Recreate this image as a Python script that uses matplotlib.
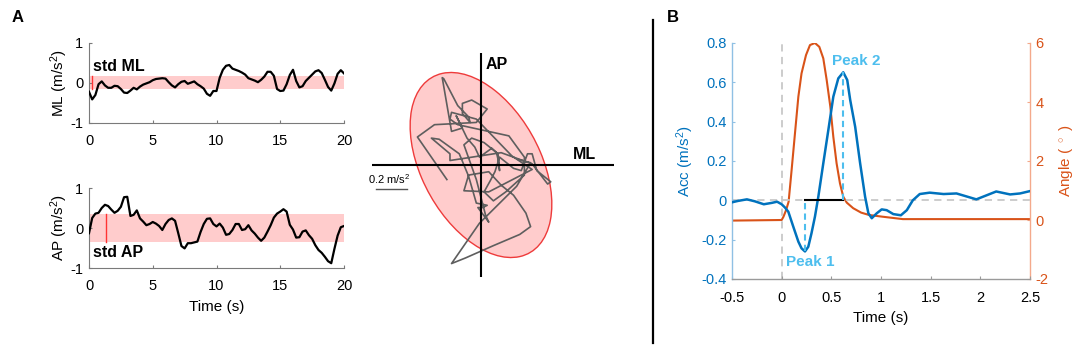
import numpy as np
import matplotlib
matplotlib.use("Agg")
import matplotlib.pyplot as plt
from matplotlib.patches import Ellipse
from matplotlib.lines import Line2D

plt.rcParams['font.family'] = ['Liberation Sans', 'DejaVu Sans']
plt.rcParams['mathtext.fontset'] = 'custom'
plt.rcParams['mathtext.rm'] = 'Liberation Sans'
plt.rcParams['mathtext.it'] = 'Liberation Sans:italic'
plt.rcParams['mathtext.bf'] = 'Liberation Sans:bold'
plt.rcParams['axes.unicode_minus'] = False

# ---------------- Panel A data (sampled every 0.25 s) ----------------
time_a = np.arange(81) * 0.25
ml = [-0.22, -0.41, -0.30, -0.03, 0.04, -0.06, -0.12, -0.12, -0.07, -0.08,
      -0.15, -0.24, -0.25, -0.19, -0.12, -0.16, -0.09, -0.04, -0.01, 0.02,
      0.07, 0.10, 0.11, 0.12, 0.11, 0.02, -0.06, -0.11, -0.03, 0.03,
      0.05, -0.02, 0.01, 0.04, -0.03, -0.08, -0.14, -0.27, -0.32, -0.20,
      -0.20, 0.13, 0.33, 0.43, 0.45, 0.36, 0.33, 0.30, 0.26, 0.21,
      0.12, 0.09, 0.06, 0.02, 0.08, 0.16, 0.28, 0.28, 0.18, -0.15,
      -0.20, -0.19, -0.03, 0.20, 0.33, 0.05, -0.11, -0.08, 0.05, 0.13,
      0.21, 0.29, 0.32, 0.25, 0.08, -0.10, -0.19, -0.01, 0.23, 0.32, 0.24]
ap = [-0.13, 0.25, 0.36, 0.38, 0.50, 0.58, 0.55, 0.46, 0.38, 0.43,
      0.53, 0.77, 0.78, 0.30, 0.33, 0.44, 0.24, 0.16, 0.07, 0.10,
      0.15, 0.11, 0.05, -0.05, 0.10, 0.20, 0.24, 0.18, -0.13, -0.45,
      -0.51, -0.38, -0.38, -0.36, -0.34, -0.10, 0.10, 0.23, 0.24, 0.10,
      0.04, 0.11, 0.01, -0.17, -0.15, -0.05, 0.10, 0.10, -0.05, -0.03,
      0.07, -0.06, -0.14, -0.24, -0.32, -0.24, -0.09, 0.07, 0.26, 0.36,
      0.41, 0.47, 0.41, 0.08, -0.04, -0.24, -0.23, -0.09, -0.06, -0.18,
      -0.27, -0.43, -0.55, -0.62, -0.72, -0.83, -0.88, -0.52, -0.19, 0.02, 0.05]
ml_band = [-0.16, 0.18]
ap_band = [-0.35, 0.34]
ml_std_time = 0.2
ap_std_time = 1.3
time_ticks_a = [0, 5, 10, 15, 20]
y_ticks_a = [-1, 0, 1]

# confidence ellipse (data units): width, height, angle
ell_width = 1.71
ell_height = 0.80
ell_angle = 107.0
scale_len = 0.2

# ---------------- Panel B data ----------------
t_acc = [-0.5, -0.44, -0.35, -0.27, -0.18, -0.10, -0.046, 0.0, 0.034, 0.067,
         0.117, 0.168, 0.20, 0.235, 0.268, 0.30, 0.335, 0.369, 0.419, 0.47,
         0.52, 0.57, 0.62, 0.66, 0.69, 0.74, 0.79, 0.84, 0.873, 0.907,
         0.957, 1.007, 1.057, 1.124, 1.20, 1.26, 1.32, 1.39, 1.49, 1.63,
         1.76, 1.86, 1.96, 2.06, 2.16, 2.30, 2.40, 2.50]
acc = [-0.01, -0.003, 0.005, -0.005, -0.02, -0.013, -0.007, -0.02, -0.037, -0.058,
       -0.134, -0.21, -0.244, -0.26, -0.236, -0.168, -0.083, 0.018, 0.188, 0.358,
       0.527, 0.62, 0.651, 0.612, 0.51, 0.374, 0.188, 0.018, -0.066, -0.091,
       -0.066, -0.046, -0.05, -0.07, -0.076, -0.05, 0.0, 0.032, 0.039, 0.032,
       0.035, 0.02, 0.005, 0.025, 0.045, 0.03, 0.035, 0.047]
t_ang = [-0.5, 0.0, 0.018, 0.045, 0.07, 0.10, 0.134, 0.168, 0.20, 0.245,
         0.285, 0.335, 0.379, 0.419, 0.453, 0.49, 0.52, 0.553, 0.587, 0.62,
         0.655, 0.72, 0.80, 0.88, 1.02, 1.22, 2.5]
angle = [-0.02, 0.0, 0.11, 0.34, 0.62, 1.69, 2.94, 4.18, 4.97, 5.59,
         5.93, 6.0, 5.87, 5.48, 4.75, 3.84, 2.82, 1.92, 1.24, 0.79,
         0.59, 0.40, 0.25, 0.17, 0.11, 0.03, 0.03]
peak1 = (0.235, -0.26)
peak2 = (0.62, 0.651)
x_ticks_b = [-0.5, 0, 0.5, 1, 1.5, 2, 2.5]
acc_ticks = [-0.4, -0.2, 0, 0.2, 0.4, 0.6, 0.8]
ang_ticks = [-2, 0, 2, 4, 6]

BLUE = '#0072BD'
ORANGE = '#D95319'
LBLUE = '#4DBEEE'
PINK = '#FFCCCC'

W, H = 1084, 356
fig = plt.figure(figsize=(W / 100, H / 100), dpi=100)


def rect(l, t, r, b):
    return [l / W, (H - b) / H, (r - l) / W, (b - t) / H]


def style_a(ax):
    for s in ['top', 'right']:
        ax.spines[s].set_visible(False)
    for s in ['left', 'bottom']:
        ax.spines[s].set_color('#7a7a7a')
        ax.spines[s].set_linewidth(0.8)
    ax.tick_params(direction='in', length=2.5, width=0.8, color='#7a7a7a',
                   labelsize=10.5)
    ax.tick_params(axis='x', pad=8)
    ax.tick_params(axis='y', pad=4)
    ax.set_xlim(0, 20)
    ax.set_ylim(-1, 1)
    ax.set_xticks(time_ticks_a)
    ax.set_yticks(y_ticks_a)


# ML time series
ax1 = fig.add_axes(rect(89, 43, 344, 123))
style_a(ax1)
ax1.axhspan(ml_band[0], ml_band[1], color=PINK, lw=0, zorder=1)
ax1.plot(time_a, ml, color='black', lw=1.6, zorder=3)
ax1.plot([ml_std_time, ml_std_time], ml_band, color='#ff3333', lw=1.0, zorder=2)
ax1.text(0.3, 0.22, 'std ML', fontsize=11.5, fontweight='bold', ha='left', va='bottom')
ax1.set_ylabel('ML (m/s$^2$)', fontsize=11, labelpad=0)

# AP time series
ax2 = fig.add_axes(rect(89, 188, 344, 268))
style_a(ax2)
ax2.axhspan(ap_band[0], ap_band[1], color=PINK, lw=0, zorder=1)
ax2.plot(time_a, ap, color='black', lw=1.6, zorder=3)
ax2.plot([ap_std_time, ap_std_time], ap_band, color='#ff3333', lw=1.0, zorder=2)
ax2.text(0.3, -0.42, 'std AP', fontsize=11.5, fontweight='bold', ha='left', va='top')
ax2.set_ylabel('AP (m/s$^2$)', fontsize=11, labelpad=0)
ax2.set_xlabel('Time (s)', fontsize=11, labelpad=5)

# Sway trajectory
ax3 = fig.add_axes(rect(372, 53, 614, 277))
ax3.axis('off')
ax3.set_xlim(-0.703, 0.858)
ax3.set_ylim(-1.0, 1.0)
ax3.add_patch(Ellipse((0, 0), ell_width, ell_height, angle=ell_angle,
                      facecolor=PINK, edgecolor='#ee3b3b', lw=1.0, zorder=1))
ax3.plot(ml, ap, color='#5e5e5e', lw=1.2, zorder=2)
ax3.axhline(0, color='black', lw=1.5, zorder=3)
ax3.axvline(0, color='black', lw=1.5, zorder=3)
ax3.text(0.03, 0.96, 'AP', fontsize=11.5, fontweight='bold', ha='left', va='top')
ax3.text(0.59, 0.03, 'ML', fontsize=11.5, fontweight='bold', ha='left', va='bottom')
ax3.plot([-0.677, -0.677 + scale_len], [-0.214, -0.214], color='#555555', lw=1.0,
         clip_on=False)
ax3.text(-0.59, -0.125, '0.2 m/s$^2$', fontsize=8, ha='center', va='center')

# Panel B
ax4 = fig.add_axes(rect(732, 43, 1030, 279))
ax4.set_xlim(-0.5, 2.5)
ax4.set_ylim(-0.4, 0.8)
ax4.spines['top'].set_visible(False)
ax4.spines['right'].set_visible(False)
ax4.spines['left'].set_color('#8fc0e4')
ax4.spines['bottom'].set_color('#9a9a9a')
ax4.spines['left'].set_linewidth(1.0)
ax4.spines['bottom'].set_linewidth(1.0)
ax4.set_xticks(x_ticks_b)
ax4.set_xticklabels(['-0.5', '0', '0.5', '1', '1.5', '2', '2.5'])
ax4.set_yticks(acc_ticks)
ax4.set_yticklabels(['-0.4', '-0.2', '0', '0.2', '0.4', '0.6', '0.8'])
ax4.tick_params(axis='x', direction='in', length=2.5, color='#9a9a9a', labelsize=10.5, pad=9)
ax4.tick_params(axis='y', direction='in', length=2.5, color='#8fc0e4', labelcolor=BLUE,
                labelsize=10.5, pad=4)
ax4.set_ylabel('Acc (m/s$^2$)', color=BLUE, fontsize=11, labelpad=4)
ax4.set_xlabel('Time (s)', fontsize=11, labelpad=4)

ax4.axvline(0, color='#c8c8c8', lw=1.3, ls=(0, (4, 3)), zorder=1)
ax4.axhline(0, color='#c8c8c8', lw=1.3, ls=(0, (4, 3)), zorder=1)

ax5 = ax4.twinx()
ax5.set_ylim(-2, 6)
ax5.set_yticks(ang_ticks)
for s in ['top', 'left', 'bottom']:
    ax5.spines[s].set_visible(False)
ax5.spines['right'].set_color('#f4a98b')
ax5.spines['right'].set_linewidth(1.0)
ax5.tick_params(axis='y', direction='in', length=2.5, color='#f4a98b', labelcolor=ORANGE,
                labelsize=10.5, pad=4)
ax5.set_ylabel('Angle ( $^\\circ$ )', color=ORANGE, fontsize=11, labelpad=6)
ax5.plot(t_ang, angle, color=ORANGE, lw=1.5, zorder=2)

ax4.set_zorder(ax5.get_zorder() + 1)
ax4.patch.set_visible(False)
ax4.plot(t_acc, acc, color=BLUE, lw=1.8, zorder=3)
ax4.plot([peak1[0], peak2[0]], [0, 0], color='black', lw=1.5, zorder=4)
ax4.plot([peak1[0], peak1[0]], [peak1[1], 0], color=LBLUE, lw=1.5, ls=(0, (3, 2)), zorder=4)
ax4.plot([peak2[0], peak2[0]], [0, peak2[1]], color=LBLUE, lw=1.5, ls=(0, (3, 2)), zorder=4)
ax4.text(0.285, -0.316, 'Peak 1', color=LBLUE, fontsize=11, fontweight='bold',
         ha='center', va='center')
ax4.text(0.748, 0.706, 'Peak 2', color=LBLUE, fontsize=11, fontweight='bold',
         ha='center', va='center')

# separator and panel letters
fig.add_artist(Line2D([653 / W, 653 / W], [(H - 343) / H, (H - 20) / H],
                      color='black', lw=1.6))
fig.text(12 / W, (H - 22) / H, 'A', fontsize=12, fontweight='bold', ha='left', va='baseline')
fig.text(667 / W, (H - 22) / H, 'B', fontsize=12, fontweight='bold', ha='left', va='baseline')

fig.savefig('out.png', dpi=100)
